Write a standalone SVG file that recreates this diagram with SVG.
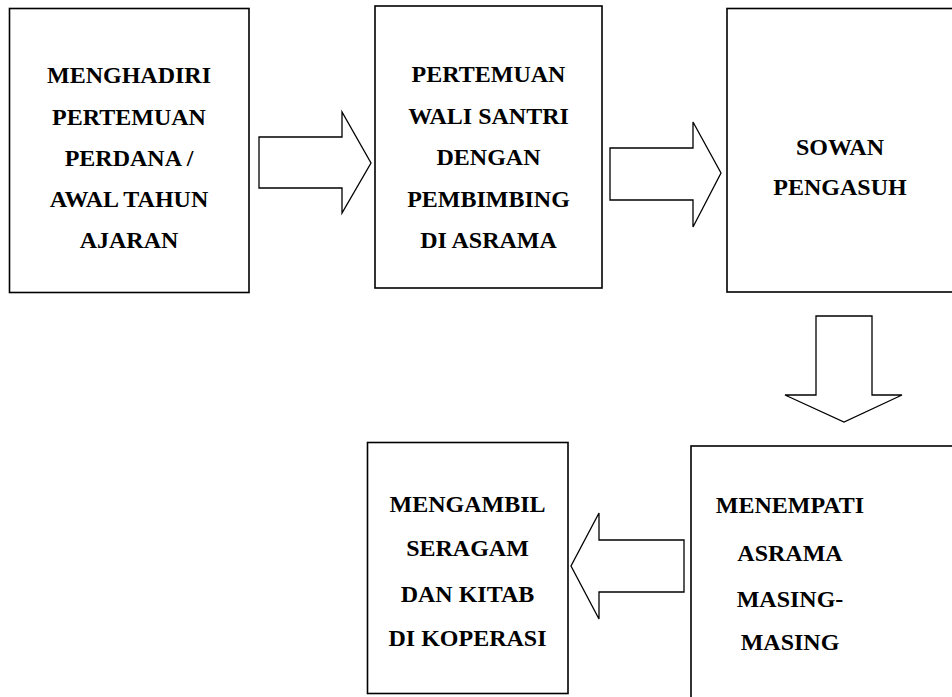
<svg xmlns="http://www.w3.org/2000/svg" width="952" height="697" viewBox="0 0 952 697">
<style>
.box{fill:#fff;stroke:#000;stroke-width:1.6}
.arr{fill:#fff;stroke:#000;stroke-width:1.3;stroke-linejoin:miter}
.t{font-family:'Liberation Serif', 'Times New Roman', serif;font-weight:700;font-size:24px;fill:#000;text-anchor:middle}
</style>
<rect width="952" height="697" fill="#fff"/>
<g id="n1">
<rect class="box" x="9.5" y="8.5" width="239.5" height="284"/>
<text class="t" x="129" y="83">MENGHADIRI</text>
<text class="t" x="129" y="125">PERTEMUAN</text>
<text class="t" x="129" y="166">PERDANA /</text>
<text class="t" x="129" y="207">AWAL TAHUN</text>
<text class="t" x="129" y="248">AJARAN</text>
</g>
<g id="n2">
<rect class="box" x="375" y="6" width="227" height="282"/>
<text class="t" x="488.5" y="82">PERTEMUAN</text>
<text class="t" x="488.5" y="123.5">WALI SANTRI</text>
<text class="t" x="488.5" y="165">DENGAN</text>
<text class="t" x="488.5" y="206.5">PEMBIMBING</text>
<text class="t" x="488.5" y="248">DI ASRAMA</text>
</g>
<g id="n3">
<rect class="box" x="727" y="8.5" width="230" height="283.5"/>
<text class="t" x="840" y="155">SOWAN</text>
<text class="t" x="840" y="195">PENGASUH</text>
</g>
<g id="n4">
<rect class="box" x="691" y="446" width="270" height="260"/>
<text class="t" x="790" y="513">MENEMPATI</text>
<text class="t" x="790" y="561">ASRAMA</text>
<text class="t" x="790" y="607">MASING-</text>
<text class="t" x="790" y="650">MASING</text>
</g>
<g id="n5">
<rect class="box" x="367.5" y="442.5" width="200.5" height="251"/>
<text class="t" x="467.5" y="512">MENGAMBIL</text>
<text class="t" x="467.5" y="556">SERAGAM</text>
<text class="t" x="467.5" y="602">DAN KITAB</text>
<text class="t" x="467.5" y="646">DI KOPERASI</text>
</g>
<g id="connectors">
<polygon class="arr" points="259,137 342,137 342,112 371,163 342,213 342,188 259,188"/>
<polygon class="arr" points="610,148 693,148 693,122 721,173 693,227 693,200 610,200"/>
<polygon class="arr" points="816,316 872,316 872,395 902,395 844,422 785,395 816,395"/>
<polygon class="arr" points="684,540 599,540 599,513 571,566 599,619 599,592 684,592"/>
</g>
</svg>
